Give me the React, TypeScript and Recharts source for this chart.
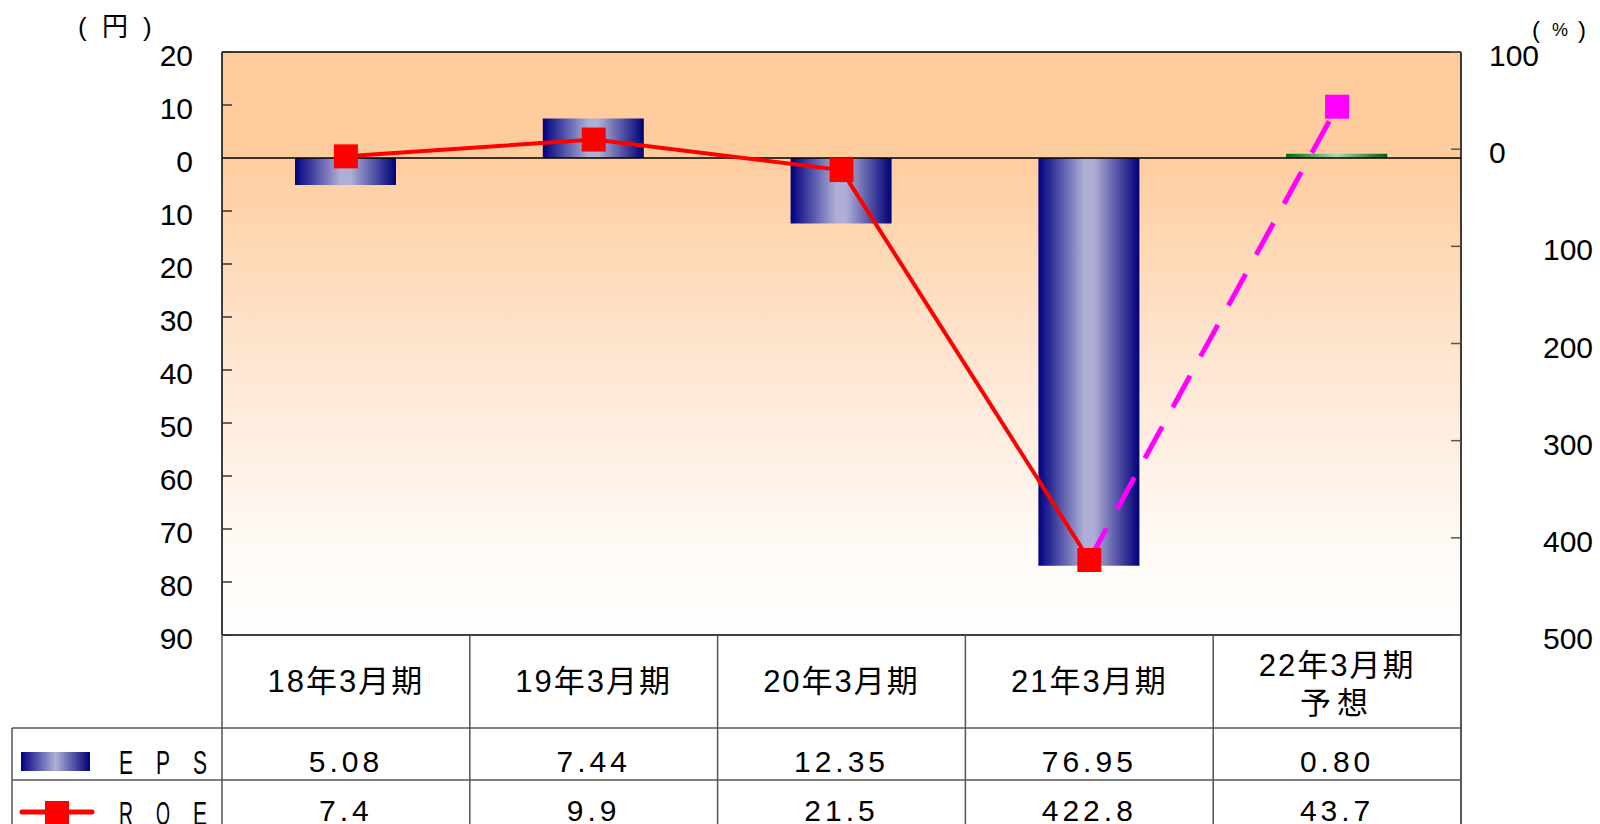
import React from 'react'
import { ComposedChart, Bar, Line, XAxis, YAxis, CartesianGrid, ReferenceLine, Cell } from 'recharts'

// data
const periods = ['18年3月期', '19年3月期', '20年3月期', '21年3月期', '22年3月期\n予想']
const eps = [-5.08, 7.44, -12.35, -76.95, 0.8]
const roe = [-7.4, 9.9, -21.5, -422.8, 43.7]
const forecastIndex = 4
const leftTicks = [20, 10, 0, -10, -20, -30, -40, -50, -60, -70, -80, -90]
const rightTicks = [100, 0, -100, -200, -300, -400, -500]

const data = periods.map((p, i) => ({
  period: p,
  eps: eps[i],
  roe: i < forecastIndex ? roe[i] : null,
  roeForecast: i >= forecastIndex - 1 ? roe[i] : null,
}))

// layout
const W = 1600
const H = 824
const PLOT_LEFT = 222
const PLOT_RIGHT = 1461
const PLOT_TOP = 52
const PLOT_BOTTOM = 635
const AXIS_W = 100
const FONT = "'Liberation Sans', Arial, 'Noto Sans CJK JP', sans-serif"

const LeftTick = (props: any) => {
  const { x, y, payload } = props
  return (
    <g>
      <line x1={x} x2={x + 10} y1={y} y2={y} stroke="#333" strokeWidth={1.5} />
      <text x={x - 29} y={y} dy={14} textAnchor="end" fontSize={30} fill="#000" fontFamily={FONT}>
        {Math.abs(payload.value)}
      </text>
    </g>
  )
}

const RightTick = (props: any) => {
  const { x, y, payload } = props
  const v = payload.value
  return (
    <g>
      <line x1={x - 10} x2={x} y1={y} y2={y} stroke="#555" strokeWidth={1.5} />
      <text x={x + (v < 0 ? 82 : 28)} y={y} dy={14} textAnchor="start" fontSize={30} fill="#000" fontFamily={FONT}>
        {Math.abs(v)}
      </text>
    </g>
  )
}

const square = (color: string, only?: number) => (props: any) => {
  const { cx, cy, index, value } = props
  if (value == null || cx == null || cy == null || (only != null && index !== only)) return <g key={index} />
  return <rect key={index} x={cx - 12} y={cy - 12} width={24} height={24} fill={color} />
}

function Table() {
  const colW = (PLOT_RIGHT - PLOT_LEFT) / periods.length
  const rowCat = 728
  const rowEps = 780
  const line = '#555'
  return (
    <svg width={W} height={H} style={{ position: 'absolute', left: 0, top: 0, pointerEvents: 'none' }} fontFamily={FONT}>
      <defs>
        <linearGradient id="legendNavy" x1="0" y1="0" x2="1" y2="0">
          <stop offset="0" stopColor="#000080" />
          <stop offset="0.5" stopColor="#B0B0D8" />
          <stop offset="1" stopColor="#000078" />
        </linearGradient>
      </defs>
      {/* titles */}
      <text x={78} y={36} fontSize={26} letterSpacing={4}>( 円 )</text>
      <text x={1532} y={38} fontSize={24}>(</text>
      <text x={1552} y={36} fontSize={18}>%</text>
      <text x={1578} y={38} fontSize={24}>)</text>

      {/* grid lines */}
      {periods.map((_, i) => (
        <line key={'v' + i} x1={PLOT_LEFT + i * colW} x2={PLOT_LEFT + i * colW} y1={PLOT_BOTTOM} y2={H} stroke={line} strokeWidth={1.5} />
      ))}
      <line x1={PLOT_RIGHT} x2={PLOT_RIGHT} y1={PLOT_BOTTOM} y2={H} stroke="#222" strokeWidth={1.5} />
      <line x1={12} x2={12} y1={rowCat} y2={H} stroke={line} strokeWidth={1.5} />
      <line x1={12} x2={PLOT_RIGHT} y1={rowCat} y2={rowCat} stroke={line} strokeWidth={1.5} />
      <line x1={12} x2={PLOT_RIGHT} y1={rowEps} y2={rowEps} stroke={line} strokeWidth={1.5} />

      {/* category labels */}
      {periods.map((p, i) => {
        const cx = PLOT_LEFT + (i + 0.5) * colW
        const parts = p.split('\n')
        if (parts.length === 1)
          return <text key={'c' + i} x={cx} y={692} textAnchor="middle" fontSize={31} letterSpacing={2}>{p}</text>
        return (
          <text key={'c' + i} x={cx} textAnchor="middle" fontSize={31} letterSpacing={2}>
            <tspan x={cx} y={676}>{parts[0]}</tspan>
            <tspan x={cx} y={714} letterSpacing={6}>{parts[1]}</tspan>
          </text>
        )
      })}

      {/* values */}
      {eps.map((v, i) => (
        <text key={'e' + i} x={PLOT_LEFT + (i + 0.5) * colW} y={772} textAnchor="middle" fontSize={30} letterSpacing={4}>
          {Math.abs(v).toFixed(2)}
        </text>
      ))}
      {roe.map((v, i) => (
        <text key={'r' + i} x={PLOT_LEFT + (i + 0.5) * colW} y={821} textAnchor="middle" fontSize={30} letterSpacing={4}>
          {Math.abs(v).toFixed(1)}
        </text>
      ))}

      {/* legend cells */}
      <rect x={21} y={752} width={69} height={19} fill="url(#legendNavy)" />
      {['E', 'P', 'S'].map((c, i) => (
        <text key={c + i} x={119 + i * 37} y={774} fontSize={33} textLength={14} lengthAdjust="spacingAndGlyphs">{c}</text>
      ))}
      <line x1={22} x2={92} y1={812} y2={812} stroke="#FF0000" strokeWidth={5} strokeLinecap="round" />
      <rect x={45} y={801} width={24} height={24} fill="#FF0000" />
      {['R', 'O', 'E'].map((c, i) => (
        <text key={c + i} x={119 + i * 37} y={825} fontSize={33} textLength={14} lengthAdjust="spacingAndGlyphs">{c}</text>
      ))}
    </svg>
  )
}

export default function App() {
  return (
    <div style={{ position: 'absolute', left: 0, top: 0, width: W, height: H, background: '#fff', fontFamily: FONT }}>
      <ComposedChart
        width={W}
        height={H}
        data={data}
        barSize={101}
        margin={{ top: PLOT_TOP, bottom: H - PLOT_BOTTOM, left: PLOT_LEFT - AXIS_W, right: W - PLOT_RIGHT - AXIS_W }}
      >
        <defs>
          <linearGradient id="bg" x1="0" y1="0" x2="0" y2="1">
            <stop offset="0" stopColor="#FECC9C" />
            <stop offset="0.18" stopColor="#FECD9E" />
            <stop offset="0.55" stopColor="#FEE7D4" />
            <stop offset="0.85" stopColor="#FFFAF6" />
            <stop offset="1" stopColor="#FFFFFF" />
          </linearGradient>
          <linearGradient id="navy" x1="0" y1="0" x2="1" y2="0">
            <stop offset="0" stopColor="#000080" />
            <stop offset="0.45" stopColor="#AEAED6" />
            <stop offset="0.55" stopColor="#AEAED6" />
            <stop offset="1" stopColor="#000078" />
          </linearGradient>
          <linearGradient id="green" x1="0" y1="0" x2="1" y2="0">
            <stop offset="0" stopColor="#006600" />
            <stop offset="0.5" stopColor="#B0D8B0" />
            <stop offset="1" stopColor="#006000" />
          </linearGradient>
        </defs>
        <CartesianGrid yAxisId="left" horizontal={false} vertical={false} fill="url(#bg)" />
        <XAxis dataKey="period" hide />
        <YAxis
          yAxisId="left"
          width={AXIS_W}
          domain={[-90, 20]}
          ticks={leftTicks}
          interval={0}
          axisLine={{ stroke: '#000', strokeWidth: 1.5 }}
          tickLine={false}
          tickSize={0}
          tickMargin={0}
          tick={<LeftTick />}
        />
        <YAxis
          yAxisId="right"
          orientation="right"
          width={AXIS_W}
          domain={[-500, 100]}
          ticks={rightTicks}
          interval={0}
          axisLine={{ stroke: '#000', strokeWidth: 1.5 }}
          tickLine={false}
          tickSize={0}
          tickMargin={0}
          tick={<RightTick />}
        />
        <ReferenceLine yAxisId="left" y={20} stroke="#000" strokeWidth={1.5} />
        <ReferenceLine yAxisId="left" y={-90} stroke="#000" strokeWidth={1.5} />
        <ReferenceLine yAxisId="left" y={0} stroke="#000" strokeWidth={1.5} />
        <Bar yAxisId="left" dataKey="eps" isAnimationActive={false}>
          {data.map((_, i) => (
            <Cell key={i} fill={i === forecastIndex ? 'url(#green)' : 'url(#navy)'} />
          ))}
        </Bar>
        <Line
          yAxisId="right"
          dataKey="roeForecast"
          stroke="#FF00FF"
          strokeWidth={5}
          strokeDasharray="36 22"
          dot={square('#FF00FF', forecastIndex)}
          activeDot={false}
          connectNulls={false}
          isAnimationActive={false}
        />
        <Line
          yAxisId="right"
          dataKey="roe"
          stroke="#FF0000"
          strokeWidth={4}
          dot={square('#FF0000')}
          activeDot={false}
          isAnimationActive={false}
        />
      </ComposedChart>
      <Table />
    </div>
  )
}
